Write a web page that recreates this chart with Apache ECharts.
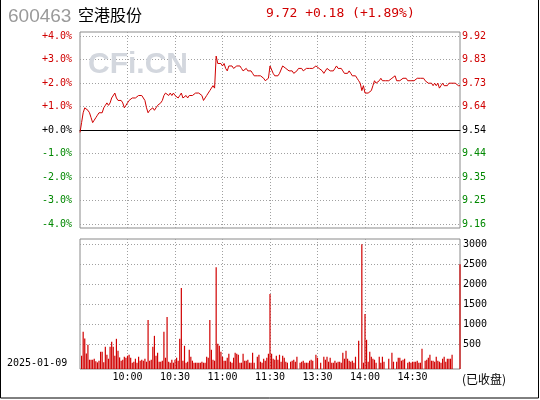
<!DOCTYPE html>
<html>
<head>
<meta charset="utf-8">
<script src="https://cdn.jsdelivr.net/npm/echarts@6/dist/echarts.min.js"></script>
<style>
html,body{margin:0;padding:0;background:#fff;}
#c{width:540px;height:400px;}
</style>
</head>
<body>
<div id="c"></div>
<script>
// ---- data ----
const stockCode = '600463';
const stockName = '空港股份';
const tradeDate = '2025-01-09';
const prevClose = 9.54;
const lastPrice = 9.72;
const headerText = '9.72 +0.18 (+1.89%)';
const statusText = '(已收盘)';

const prices = [
 9.53,9.57,9.61,9.63,9.63,9.62,9.61,9.59,9.57,9.58,
 9.59,9.60,9.61,9.61,9.61,9.63,9.64,9.65,9.64,9.65,
 9.67,9.67,9.69,9.67,9.66,9.66,9.66,9.65,9.63,9.64,
 9.65,9.66,9.66,9.67,9.67,9.67,9.67,9.68,9.68,9.68,
 9.68,9.66,9.63,9.61,9.62,9.62,9.63,9.62,9.63,9.64,
 9.64,9.65,9.66,9.68,9.69,9.69,9.68,9.69,9.68,9.69,
 9.68,9.68,9.67,9.68,9.69,9.67,9.67,9.68,9.67,9.68,
 9.68,9.68,9.68,9.69,9.69,9.69,9.69,9.68,9.66,9.67,
 9.68,9.69,9.70,9.71,9.72,9.71,9.84,9.81,9.81,9.81,
 9.80,9.81,9.79,9.78,9.80,9.80,9.80,9.79,9.79,9.80,
 9.80,9.80,9.79,9.78,9.78,9.79,9.78,9.78,9.78,9.77,
 9.76,9.76,9.76,9.76,9.76,9.76,9.75,9.74,9.74,9.75,
 9.80,9.80,9.77,9.76,9.76,9.76,9.77,9.77,9.80,9.80,
 9.79,9.79,9.78,9.78,9.78,9.77,9.77,9.78,9.79,9.79,
 9.79,9.78,9.78,9.79,9.79,9.79,9.79,9.79,9.79,9.80,
 9.80,9.79,9.79,9.78,9.77,9.77,9.79,9.79,9.78,9.78,
 9.78,9.79,9.80,9.79,9.79,9.79,9.78,9.77,9.77,9.77,
 9.78,9.77,9.76,9.76,9.76,9.75,9.74,9.73,9.70,9.72,
 9.69,9.69,9.69,9.69,9.70,9.72,9.74,9.73,9.73,9.74,
 9.75,9.74,9.74,9.74,9.74,9.74,9.74,9.75,9.75,9.76,
 9.74,9.74,9.74,9.74,9.75,9.75,9.75,9.74,9.74,9.74,
 9.74,9.74,9.74,9.75,9.75,9.75,9.75,9.75,9.74,9.74,
 9.73,9.73,9.73,9.72,9.73,9.72,9.73,9.71,9.72,9.73,
 9.72,9.72,9.72,9.73,9.73,9.73,9.73,9.73,9.73,9.72,
 9.72
];

const volumes = [
 0,320,896,736,376,584,224,224,224,248,
 184,160,200,416,416,160,536,344,248,536,
 656,536,320,728,440,280,200,224,296,272,
 320,344,272,152,176,248,152,296,200,224,
 200,248,176,1184,200,224,536,800,320,392,
 176,176,200,896,272,1256,176,152,224,152,
 224,272,200,728,1952,200,560,152,176,464,
 296,200,152,152,152,152,152,176,152,152,
 296,272,1184,464,224,200,2456,608,560,416,
 296,200,200,272,368,176,152,272,392,368,
 344,152,152,368,200,200,224,152,152,392,
 152,0,296,344,176,152,248,200,272,368,
 1808,368,248,224,320,224,344,176,320,272,
 176,152,0,176,200,224,176,296,0,152,
 176,200,152,152,152,200,224,200,0,344,
 272,0,152,0,296,224,296,176,272,152,
 152,200,152,176,176,152,392,248,440,248,
 200,176,200,152,296,0,680,0,3008,152,
 1328,704,176,416,296,248,224,152,0,296,
 152,296,176,0,0,248,0,392,176,0,
 176,272,272,200,224,248,0,152,176,152,
 176,176,176,200,152,152,488,0,200,224,
 272,344,200,200,176,296,200,176,152,248,
 296,176,248,248,248,344,0,0,0,0,
 2528
];

const pctTickLabels = ['-4.0%','-3.0%','-2.0%','-1.0%','+0.0%','+1.0%','+2.0%','+3.0%','+4.0%'];
const priceTickLabels = ['9.16','9.25','9.35','9.44','9.54','9.64','9.73','9.83','9.92'];
const volTickLabels = ['500','1000','1500','2000','2500','3000'];

// time categories: 09:30..11:30, 13:01..15:00
const times = [];
function fmt(t){const h=Math.floor(t/60),m=t%60;return (h<10?'0':'')+h+':'+(m<10?'0':'')+m;}
for(let i=0;i<=120;i++) times.push(fmt(570+i));
for(let i=1;i<=120;i++) times.push(fmt(780+i));

const pctData = prices.map(p => (p - prevClose) / prevClose * 100);

// ---- chart ----
const RED = '#d00000', GREEN = '#008800', GRID = '#a0a0a0', FRAME = '#8a8a8a';
const MONO = 'DejaVu Sans Mono';
const dotted = {color: GRID, width: 1, type: [1, 2]};
const halfHour = (i) => i % 30 === 0 && i > 0 && i < 240;
const colorBySign = (v) => { v = Number(v); return v > 0 ? RED : (v < 0 ? GREEN : '#000'); };

const chart = echarts.init(document.getElementById('c'), null, {renderer: 'canvas'});
chart.setOption({
  animation: false,
  backgroundColor: '#fff',
  grid: [
    {left: 80, right: 80, top: 36, height: 188, show: false},
    {left: 80, right: 80, top: 32, height: 196, show: true, borderColor: FRAME, borderWidth: 1, backgroundColor: 'transparent'},
    {left: 80, right: 80, top: 239, height: 130, show: true, borderColor: FRAME, borderWidth: 1, backgroundColor: 'transparent'},
    {left: 80, right: 80, top: 244, height: 100, show: false}
  ],
  xAxis: [
    {gridIndex: 0, type: 'category', data: times, boundaryGap: false,
     axisLine: {show: true, onZero: true, lineStyle: {color: '#000', width: 1}},
     axisTick: {show: false}, axisLabel: {show: false}, splitLine: {show: false}},
    {gridIndex: 1, type: 'category', data: times, boundaryGap: false,
     axisLine: {show: false}, axisTick: {show: false}, axisLabel: {show: false},
     splitLine: {show: true, interval: halfHour, lineStyle: dotted}},
    {gridIndex: 2, type: 'category', data: times, boundaryGap: false,
     axisLine: {show: false}, axisTick: {show: false},
     axisLabel: {show: true, interval: halfHour, margin: 3, color: '#000', fontFamily: MONO, fontSize: 10},
     splitLine: {show: true, interval: halfHour, lineStyle: dotted}},
    {gridIndex: 3, type: 'category', data: times, boundaryGap: false, show: false}
  ],
  yAxis: [
    {gridIndex: 0, type: 'value', min: -4, max: 4, interval: 1, position: 'left',
     axisLine: {show: false}, axisTick: {show: false},
     axisLabel: {margin: 8, fontFamily: MONO, fontSize: 10,
       formatter: (v) => pctTickLabels[Math.round(v) + 4], color: colorBySign},
     splitLine: {show: true, lineStyle: dotted}},
    {gridIndex: 0, type: 'value', min: -4, max: 4, interval: 1, position: 'right',
     axisLine: {show: false}, axisTick: {show: false},
     axisLabel: {margin: 2, fontFamily: MONO, fontSize: 10,
       formatter: (v) => priceTickLabels[Math.round(v) + 4], color: colorBySign},
     splitLine: {show: false}},
    {gridIndex: 1, type: 'value', min: 0, max: 1, show: false},
    {gridIndex: 2, type: 'value', min: 0, max: 3136, show: false},
    {gridIndex: 3, type: 'value', min: 500, max: 3000, interval: 500, position: 'right',
     axisLine: {show: false}, axisTick: {show: false},
     axisLabel: {margin: 3, fontFamily: MONO, fontSize: 10, color: '#000',
       formatter: (v) => volTickLabels[Math.round(v / 500) - 1]},
     splitLine: {show: true, lineStyle: dotted}}
  ],
  series: [
    {type: 'line', xAxisIndex: 0, yAxisIndex: 0, data: pctData, showSymbol: false, silent: true,
     lineStyle: {color: RED, width: 1}, z: 3},
    {type: 'bar', xAxisIndex: 2, yAxisIndex: 3, data: volumes, barWidth: 1.2, silent: true,
     itemStyle: {color: RED}, z: 3}
  ],
  graphic: [
    {type: 'rect', z: 10, silent: true, shape: {x: 0.5, y: -2, width: 538, height: 400},
     style: {fill: 'none', stroke: '#000', lineWidth: 1}},
    {type: 'text', z: 1, silent: true, x: 88, y: 65,
     style: {text: 'CFi.CN', fill: '#d3d7de', font: 'bold 30px "Liberation Sans", Arial', align: 'left', verticalAlign: 'middle'}},
    {type: 'text', silent: true, x: 8, y: 17,
     style: {text: stockCode, fill: '#9a9a9a', font: '19px "Liberation Sans", Arial', align: 'left', verticalAlign: 'middle'}},
    {type: 'text', silent: true, x: 78, y: 14.5,
     style: {text: stockName, fill: '#000', font: '16px "Noto Sans CJK SC"', align: 'left', verticalAlign: 'middle'}},
    {type: 'text', silent: true, x: 266, y: 14,
     style: {text: headerText, fill: RED, font: '13px "DejaVu Sans Mono"', align: 'left', verticalAlign: 'middle'}},
    {type: 'text', silent: true, x: 7, y: 363,
     style: {text: tradeDate, fill: '#000', font: '10px "DejaVu Sans Mono"', align: 'left', verticalAlign: 'middle'}},
    {type: 'text', silent: true, x: 462, y: 379,
     style: {text: statusText, fill: '#000', font: '12px "Noto Sans CJK SC"', align: 'left', verticalAlign: 'middle'}}
  ]
});
</script>
</body>
</html>
